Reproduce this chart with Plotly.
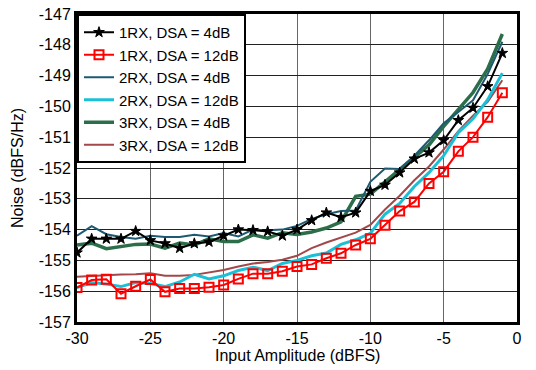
import plotly.graph_objects as go

x_dbfs = list(range(-30, 0))

rx1_dsa4 = [-154.75, -154.3, -154.3, -154.3, -154.05, -154.35, -154.45, -154.6, -154.45, -154.4,
            -154.2, -154.0, -154.02, -154.06, -154.2, -154.0, -153.7, -153.45, -153.6, -153.45,
            -152.75, -152.55, -152.15, -151.7, -151.5, -151.1, -150.45, -150.05, -149.35, -148.27]
rx1_dsa12 = [-155.88, -155.64, -155.61, -156.08, -155.84, -155.62, -156.02, -155.91, -155.91, -155.87,
             -155.8, -155.6, -155.43, -155.43, -155.35, -155.2, -155.13, -154.93, -154.77, -154.5,
             -154.3, -153.86, -153.4, -153.1, -152.5, -152.12, -151.46, -151.0, -150.35, -149.56]
rx2_dsa4 = [-154.2, -153.89, -154.15, -154.24, -154.3, -154.2, -154.24, -154.24, -154.17, -154.22,
            -154.11, -154.22, -154.0, -154.02, -154.0, -153.88, -153.65, -153.5, -153.4, -153.38,
            -152.45, -152.02, -152.03, -151.6, -151.1, -150.55, -150.18, -149.8, -148.95, -147.9]
rx2_dsa12 = [-155.88, -155.72, -155.77, -155.85, -155.72, -155.75, -155.85, -155.7, -155.45, -155.6,
             -155.5, -155.33, -155.22, -155.33, -155.1, -155.0, -154.85, -154.76, -154.48, -154.33,
             -154.12, -153.5, -153.15, -152.6, -152.15, -151.6, -150.85, -150.4, -149.78, -148.92]
rx3_dsa4 = [-154.5, -154.44, -154.62, -154.56, -154.48, -154.47, -154.6, -154.44, -154.5, -154.3,
            -154.39, -154.39, -154.17, -154.28, -154.1, -154.16, -154.08, -153.95, -153.75, -152.92,
            -152.85, -152.45, -152.05, -151.68, -151.25, -150.65, -150.08, -149.55, -148.78, -147.65]
rx3_dsa12 = [-155.53, -155.5, -155.48, -155.46, -155.45, -155.42, -155.5, -155.5, -155.47, -155.39,
             -155.31, -155.2, -155.1, -155.05, -154.98, -154.85, -154.6, -154.42, -154.27, -154.1,
             -153.85, -153.35, -152.9, -152.4, -151.95, -151.4, -150.8, -150.3, -149.85, -149.15]

names = ["1RX, DSA = 4dB", "1RX, DSA = 12dB", "2RX, DSA = 4dB",
         "2RX, DSA = 12dB", "3RX, DSA = 4dB", "3RX, DSA = 12dB"]

x_tick_vals = [-30, -25, -20, -15, -10, -5, 0]
x_tick_text = ["-30", "-25", "-20", "-15", "-10", "-5", "0"]
y_tick_vals = [-157, -156, -155, -154, -153, -152, -151, -150, -149, -148, -147]
y_tick_text = ["-157", "-156", "-155", "-154", "-153", "-152", "-151", "-150", "-149", "-148", "-147"]

x_title = "Input Amplitude (dBFS)"
y_title = "Noise (dBFS/Hz)"

fig = go.Figure()
fig.add_trace(go.Scatter(x=x_dbfs, y=rx3_dsa12, mode="lines", name=names[5],
                         line=dict(color="#a2484a", width=2), legendrank=6))
fig.add_trace(go.Scatter(x=x_dbfs, y=rx2_dsa12, mode="lines", name=names[3],
                         line=dict(color="#1cc0d6", width=3), legendrank=4))
fig.add_trace(go.Scatter(x=x_dbfs, y=rx3_dsa4, mode="lines", name=names[4],
                         line=dict(color="#2c6e4a", width=3.5), legendrank=5))
fig.add_trace(go.Scatter(x=x_dbfs, y=rx2_dsa4, mode="lines", name=names[2],
                         line=dict(color="#1d5a72", width=2), legendrank=3))
fig.add_trace(go.Scatter(x=x_dbfs, y=rx1_dsa12, mode="lines+markers", name=names[1],
                         line=dict(color="#ff0000", width=2),
                         marker=dict(symbol="square-open", size=9, color="#ff0000",
                                     line=dict(width=2, color="#ff0000")), legendrank=2))
fig.add_trace(go.Scatter(x=x_dbfs, y=rx1_dsa4, mode="lines+markers", name=names[0],
                         line=dict(color="#000000", width=2),
                         marker=dict(symbol="star", size=8, color="#000000",
                                     line=dict(width=1, color="#000000")), legendrank=1))

font_family = "Liberation Sans, Arial, Helvetica, sans-serif"
fig.update_layout(
    width=536, height=370,
    margin=dict(l=77, r=19, t=14, b=48),
    paper_bgcolor="white", plot_bgcolor="white",
    font=dict(family=font_family, size=16, color="black"),
    showlegend=True,
    legend=dict(x=0, y=1, xanchor="left", yanchor="top",
                bgcolor="white", bordercolor="black", borderwidth=2,
                font=dict(size=15), tracegroupgap=0, itemwidth=30,
                traceorder="normal"),
    annotations=[
        dict(text=x_title, xref="paper", yref="paper", x=0.5, y=0,
             xanchor="center", yanchor="middle", yshift=-33, showarrow=False,
             font=dict(size=16)),
        dict(text=y_title, xref="paper", yref="paper", x=0, y=0.5,
             xanchor="center", yanchor="middle", xshift=-60, textangle=-90,
             showarrow=False, font=dict(size=16)),
    ],
)
fig.update_xaxes(range=[-30, 0], tickvals=x_tick_vals, ticktext=x_tick_text,
                 showgrid=True, gridcolor="#666666",
                 gridwidth=1, showline=True, linecolor="black", linewidth=3, mirror=True,
                 zeroline=False, ticks="", ticklen=0, automargin=False,
                 tickfont=dict(size=16))
fig.update_yaxes(range=[-157, -147], tickvals=y_tick_vals, ticktext=y_tick_text,
                 showgrid=True, gridcolor="#222222",
                 gridwidth=1, showline=True, linecolor="black", linewidth=3, mirror=True,
                 zeroline=False, ticks="", automargin=False,
                 tickfont=dict(size=16))

fig.write_html("out.html", config={"displayModeBar": False},
               post_script="document.body.style.margin='0';document.body.style.overflow='hidden';")
